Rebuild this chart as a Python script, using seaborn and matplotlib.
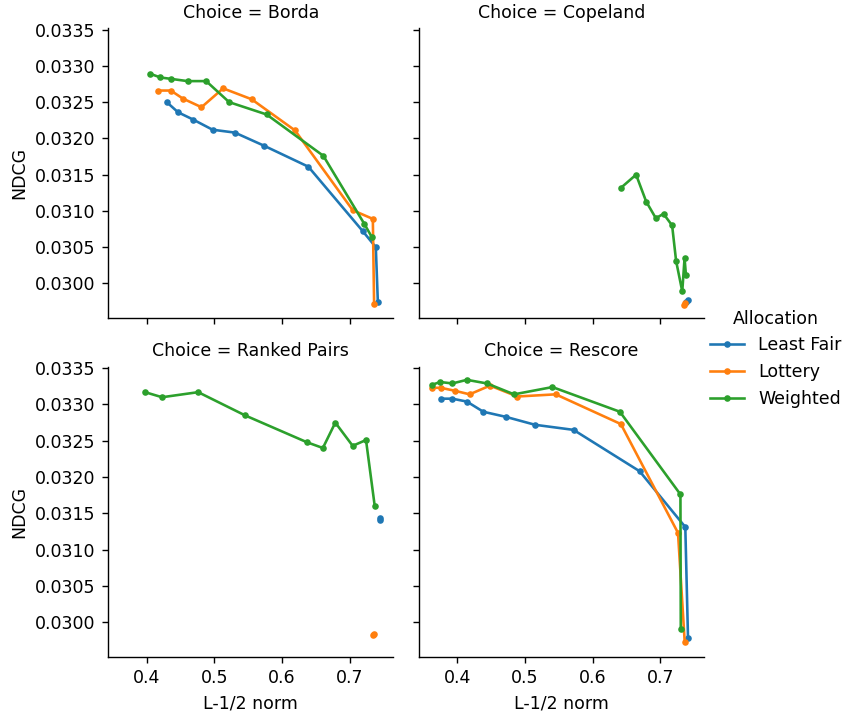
"""Facet grid of NDCG vs. L-1/2 norm by choice rule and allocation."""

import matplotlib

matplotlib.use("Agg")
import matplotlib.pyplot as plt
import pandas as pd
import seaborn as sns
from matplotlib.ticker import FormatStrFormatter, MultipleLocator

CHOICES = ["Borda", "Copeland", "Ranked Pairs", "Rescore"]
ALLOCATIONS = ["Least Fair", "Lottery", "Weighted"]

# Borda
BORDA_LF_X = [0.4296, 0.4464, 0.4686, 0.4973, 0.5304, 0.5733, 0.6390, 0.7196, 0.7388, 0.7418]
BORDA_LF_Y = [0.03250, 0.03236, 0.03226, 0.03212, 0.03208, 0.03190, 0.03161, 0.03072, 0.03050, 0.02975]
BORDA_LO_X = [0.4167, 0.4356, 0.4533, 0.4810, 0.5130, 0.5551, 0.6193, 0.7047, 0.7344, 0.7363]
BORDA_LO_Y = [0.03266, 0.03266, 0.03255, 0.03243, 0.03269, 0.03254, 0.03211, 0.03101, 0.03089, 0.02971]
BORDA_W_X = [0.4055, 0.4203, 0.4366, 0.4603, 0.4879, 0.5219, 0.5773, 0.6612, 0.7219, 0.7329]
BORDA_W_Y = [0.03289, 0.03284, 0.03282, 0.03279, 0.03279, 0.03250, 0.03233, 0.03176, 0.03082, 0.03064]

# Copeland
COPE_LF_X = [0.7385, 0.7410]
COPE_LF_Y = [0.029750, 0.029770]
COPE_LO_X = [0.7347, 0.7365]
COPE_LO_Y = [0.029700, 0.029730]
COPE_W_X = [0.6422, 0.6644, 0.6793, 0.6936, 0.7050, 0.7177, 0.7236, 0.7327, 0.7361, 0.7381]
COPE_W_Y = [0.03132, 0.03150, 0.03113, 0.03090, 0.03096, 0.03080, 0.03031, 0.02989, 0.03035, 0.03012]

# Ranked Pairs
RP_LF_X = [0.7445, 0.7457]
RP_LF_Y = [0.03141, 0.03143]
RP_LO_X = [0.7352, 0.7364]
RP_LO_Y = [0.02982, 0.02984]
RP_W_X = [0.3975, 0.4227, 0.4761, 0.5454, 0.6368, 0.6605, 0.6789, 0.7046, 0.7243, 0.7372]
RP_W_Y = [0.03317, 0.03310, 0.03317, 0.03285, 0.03248, 0.03240, 0.03275, 0.03243, 0.03251, 0.03160]

# Rescore
RES_LF_X = [0.3763, 0.3926, 0.4142, 0.4384, 0.4716, 0.5150, 0.5719, 0.6696, 0.7372, 0.7412]
RES_LF_Y = [0.03308, 0.03308, 0.03304, 0.03290, 0.03283, 0.03272, 0.03265, 0.03208, 0.03131, 0.02978]
RES_LO_X = [0.3630, 0.3757, 0.3960, 0.4182, 0.4483, 0.4889, 0.5456, 0.6419, 0.7264, 0.7363]
RES_LO_Y = [0.03323, 0.03323, 0.03319, 0.03314, 0.03326, 0.03311, 0.03314, 0.03273, 0.03123, 0.02973]
RES_W_X = [0.3619, 0.3748, 0.3926, 0.4142, 0.4439, 0.4839, 0.5407, 0.6404, 0.7300, 0.7305]
RES_W_Y = [0.03327, 0.03331, 0.03329, 0.03334, 0.03329, 0.03314, 0.03324, 0.03290, 0.03176, 0.02990]

SERIES = {
    ("Borda", "Least Fair"): (BORDA_LF_X, BORDA_LF_Y),
    ("Borda", "Lottery"): (BORDA_LO_X, BORDA_LO_Y),
    ("Borda", "Weighted"): (BORDA_W_X, BORDA_W_Y),
    ("Copeland", "Least Fair"): (COPE_LF_X, COPE_LF_Y),
    ("Copeland", "Lottery"): (COPE_LO_X, COPE_LO_Y),
    ("Copeland", "Weighted"): (COPE_W_X, COPE_W_Y),
    ("Ranked Pairs", "Least Fair"): (RP_LF_X, RP_LF_Y),
    ("Ranked Pairs", "Lottery"): (RP_LO_X, RP_LO_Y),
    ("Ranked Pairs", "Weighted"): (RP_W_X, RP_W_Y),
    ("Rescore", "Least Fair"): (RES_LF_X, RES_LF_Y),
    ("Rescore", "Lottery"): (RES_LO_X, RES_LO_Y),
    ("Rescore", "Weighted"): (RES_W_X, RES_W_Y),
}

DPI = 125

rows = []
for (choice, alloc), (xs, ys) in SERIES.items():
    for x, y in zip(xs, ys):
        rows.append({"Choice": choice, "Allocation": alloc, "L-1/2 norm": x, "NDCG": y})
df = pd.DataFrame(rows)

g = sns.relplot(
    data=df,
    x="L-1/2 norm",
    y="NDCG",
    hue="Allocation",
    hue_order=ALLOCATIONS,
    col="Choice",
    col_order=CHOICES,
    col_wrap=2,
    kind="line",
    marker="o",
    markersize=3.8,
    markeredgewidth=0,
    height=2.8,
    aspect=1,
)

for ax in g.axes.flat:
    ax.yaxis.set_major_locator(MultipleLocator(0.0005))
    ax.yaxis.set_major_formatter(FormatStrFormatter("%.4f"))
    ax.xaxis.set_major_locator(MultipleLocator(0.1))

fig = g.figure
fig.set_dpi(DPI)
fig.set_size_inches(847 / DPI, 713 / DPI)
fig.subplots_adjust(
    left=0.1275, right=0.8312, top=0.9607, bottom=0.0785, wspace=0.088, hspace=0.166
)
# nudge the figure-level legend closer to the right edge
g.legend.set_bbox_to_anchor((1.012, 0.497), transform=fig.transFigure)

fig.savefig("out.png", dpi=DPI)
plt.close(fig)
